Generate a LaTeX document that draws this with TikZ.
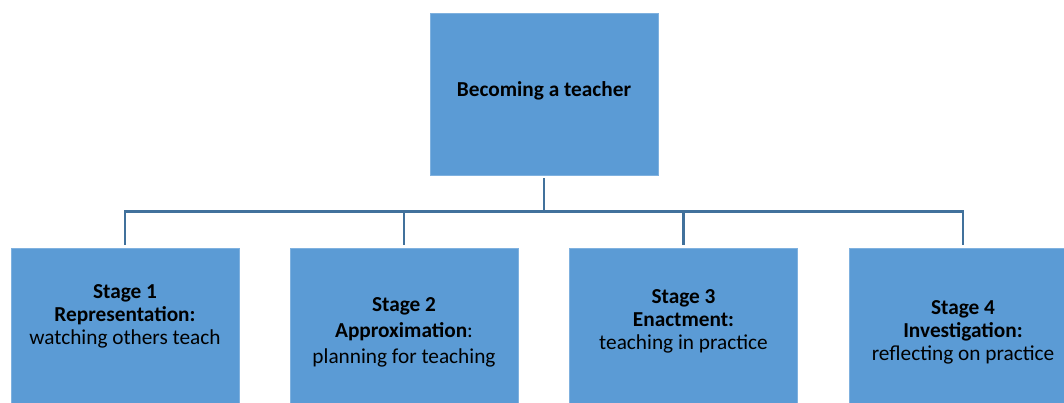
\documentclass[tikz,border=0pt]{standalone}
\usepackage{fontspec}
\setmainfont{Carlito}
\definecolor{boxfill}{HTML}{5B9BD5}
\definecolor{boxedge}{HTML}{7FB1DF}
\definecolor{linecol}{HTML}{41719C}
\begin{document}
\begin{tikzpicture}[x=1pt,y=-1pt,
  box/.style={draw=boxedge,line width=0.8pt,fill=boxfill,minimum width=228pt,minimum height=162pt,inner sep=0pt,anchor=center},
  txt/.style={align=center,inner sep=0pt,font=\fontsize{21.3}{23}\selectfont},
  conn/.style={draw=linecol,line width=2.8pt}]
\useasboundingbox (0,0) rectangle (1064,403);
\node[box] (top) at (544,94) {};
\node[box] (b1) at (125,329) {};
\node[box] (b2) at (404,329) {};
\node[box] (b3) at (683.5,329) {};
\node[box] (b4) at (963,329) {};
\node[txt,font=\fontsize{21.3}{23}\selectfont\bfseries] (t0) at ([yshift=3.6pt]top.center) {Becoming a teacher};
\node[txt] (t1) at ([yshift=12.5pt]b1.center) {\textbf{Stage 1}\\\textbf{Representation:}\\watching others teach};
\node[txt,font=\fontsize{21.3}{26}\selectfont] (t2) at ([yshift=-3pt]b2.center) {\textbf{Stage 2}\\\textbf{Approximation}:\\planning for teaching};
\node[txt] (t3) at ([yshift=8pt]b3.center) {\textbf{Stage 3}\\\textbf{Enactment:}\\teaching in practice};
\node[txt] (t4) at ([yshift=-3pt]b4.center) {\textbf{Stage 4}\\\textbf{Investigation:}\\reflecting on practice};
\coordinate (hub) at (544,211.5);
\draw[conn] ([yshift=-3pt]top.south) -- (hub);
\draw[conn] (hub) -| ([yshift=3pt]b1.north);
\draw[conn] (hub) -| ([yshift=3pt]b2.north);
\draw[conn] (hub) -| ([yshift=3pt]b3.north);
\draw[conn] (hub) -| ([yshift=3pt]b4.north);
\end{tikzpicture}
\end{document}
